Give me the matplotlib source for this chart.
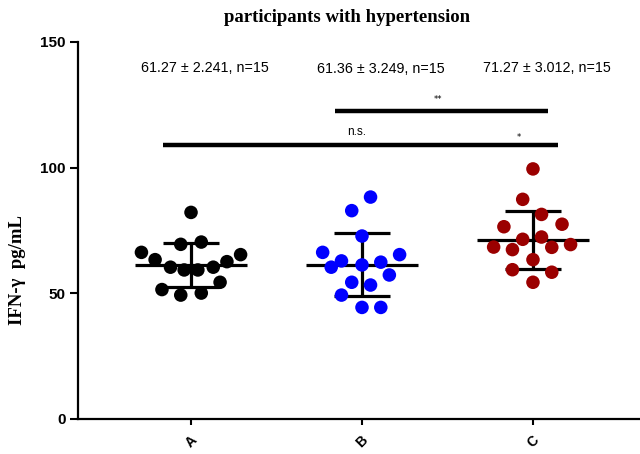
import numpy as np
import matplotlib
matplotlib.use("Agg")
import matplotlib.pyplot as plt

# ---- data ----
groups = ["A", "B", "C"]
colors = ["#000000", "#0000FF", "#9B0000"]
values_A = [82.2, 69.5, 70.4, 66.3, 65.4, 63.4, 62.6, 60.4, 59.3, 59.3, 60.4, 54.4, 51.5, 49.3, 50.1]
values_B = [88.3, 82.9, 72.8, 66.3, 65.4, 62.9, 60.4, 61.3, 62.4, 57.3, 54.4, 53.3, 49.3, 44.4, 44.4]
values_C = [99.5, 87.4, 81.4, 76.5, 77.5, 71.5, 72.4, 68.4, 67.4, 68.3, 69.4, 63.4, 59.4, 58.4, 54.4]
# horizontal jitter offsets (scatter-dot layout, in category units)
offsets_A = [0.0, -0.06, 0.06, -0.29, 0.29, -0.21, 0.21, -0.12, -0.04, 0.04, 0.13, 0.17, -0.17, -0.06, 0.06]
offsets_B = [0.05, -0.06, 0.0, -0.23, 0.22, -0.12, -0.18, 0.0, 0.11, 0.16, -0.06, 0.05, -0.12, 0.0, 0.11]
offsets_C = [0.0, -0.06, 0.05, -0.17, 0.17, -0.06, 0.05, -0.23, -0.12, 0.11, 0.22, 0.0, -0.12, 0.11, 0.0]
means = [61.27, 61.36, 71.27]
sems = [2.241, 3.249, 3.012]
ns = [15, 15, 15]
title = "participants with hypertension"
ylabel = "IFN-\u03b3  pg/mL"
sig_labels = ["**", "n.s.", "*"]

values = [values_A, values_B, values_C]
offsets = [offsets_A, offsets_B, offsets_C]

fig = plt.figure(figsize=(6.4, 4.54), dpi=100)
ax = fig.add_axes([78 / 640, 35 / 454, 562 / 640, 377 / 454])

xpos = np.arange(len(groups))
for i, (vals, offs) in enumerate(zip(values, offsets)):
    ax.scatter(xpos[i] + np.array(offs), vals, s=95, color=colors[i],
               edgecolors="none", zorder=3, clip_on=False)
    m = means[i]
    sd = sems[i] * np.sqrt(ns[i])
    ax.hlines(m, xpos[i] - 0.33, xpos[i] + 0.33, color="black", lw=2.3, zorder=2)
    ax.hlines([m - sd, m + sd], xpos[i] - 0.165, xpos[i] + 0.165, color="black", lw=2.3, zorder=2)
    ax.vlines(xpos[i], m - sd, m + sd, color="black", lw=2.3, zorder=2)
    ax.text(xpos[i] + 0.08 + (0.03 if i == 1 else 0), 139.6 - (0.4 if i == 1 else 0),
            f"{m:.2f} \u00b1 {sems[i]:.3f}, n={ns[i]}",
            ha="center", va="center", fontsize=10.3, family="Liberation Sans")

# significance bars
ax.hlines(122.6, 0.842, 2.088, color="black", lw=3.2)
ax.text(1.444, 127.2, sig_labels[0], ha="center", va="center", fontsize=6)
ax.hlines(109.0, -0.164, 2.146, color="black", lw=3.2)
ax.text(0.971, 114.2, sig_labels[1], ha="center", va="center", fontsize=8.5,
        family="Liberation Sans")
ax.text(1.918, 112.0, sig_labels[2], ha="center", va="center", fontsize=6)

ax.set_xlim(-0.661, 2.626)
ax.set_ylim(0, 150)
ax.set_yticks([0, 50, 100, 150])
ax.set_xticks(xpos)
ax.set_xticklabels(groups, rotation=45, ha="center", fontsize=10,
                   fontweight="bold", family="Liberation Sans")
for lab in ax.get_yticklabels():
    lab.set_fontweight("bold")
    lab.set_family("Liberation Sans")
    lab.set_fontsize(11)

for s in ["top", "right"]:
    ax.spines[s].set_visible(False)
for s in ["left", "bottom"]:
    ax.spines[s].set_linewidth(1.6)
ax.tick_params(axis="y", length=6, width=1.5, pad=3)
ax.tick_params(axis="x", length=4.5, width=1.5, pad=6)

fig.text(347 / 640, 1 - 18 / 454, title, ha="center", va="center",
         fontsize=13.5, fontweight="bold", family="Liberation Serif")
fig.text(18 / 640, 1 - 270 / 454, ylabel, ha="center", va="center", rotation=90,
         fontsize=13.5, fontweight="bold", family=["Liberation Serif", "DejaVu Serif"])

fig.savefig("out.png", dpi=100)
